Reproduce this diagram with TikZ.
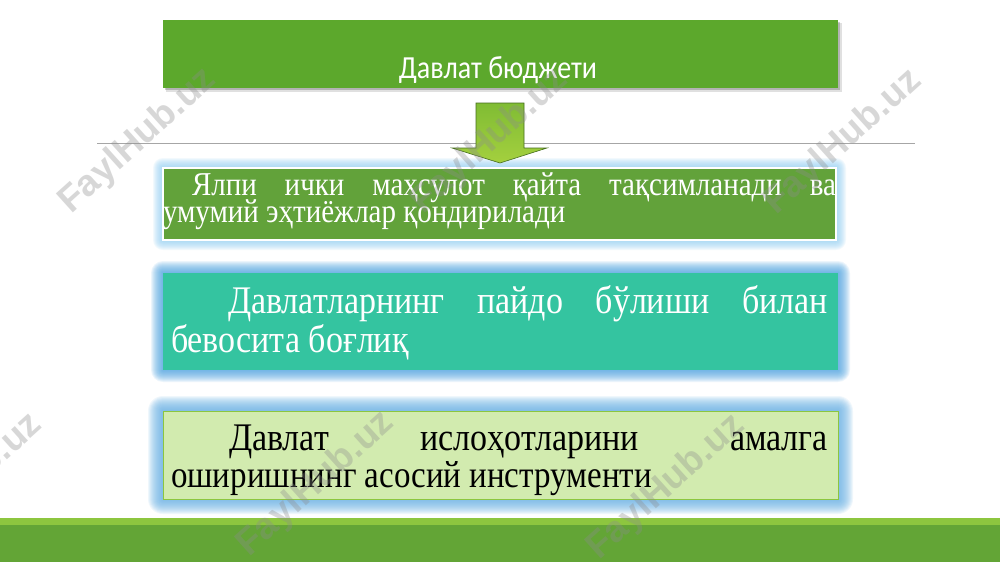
\documentclass[tikz,border=0pt]{standalone}
\usepackage{fontspec}
\setmainfont{Liberation Serif}
\newfontfamily\calibrifont{Carlito}
\newfontfamily\wmfont{Liberation Sans}
\definecolor{topgreen}{RGB}{92,168,44}
\definecolor{boxonegreen}{RGB}{98,162,58}
\definecolor{boxtwoteal}{RGB}{52,196,160}
\definecolor{boxthreefill}{RGB}{210,235,175}
\definecolor{boxthreeborder}{RGB}{140,198,63}
\definecolor{barmain}{RGB}{99,165,54}
\definecolor{barstripe}{RGB}{141,198,63}
\definecolor{glowlight}{RGB}{150,210,245}
\definecolor{glowmid}{RGB}{70,160,225}
\definecolor{arrowtop}{RGB}{128,188,52}
\definecolor{arrowbottom}{RGB}{164,208,62}
\definecolor{arrowborder}{RGB}{70,110,30}
\definecolor{wmgray}{RGB}{140,140,140}
\newcommand{\vstretch}[1]{\scalebox{1}[1.15]{#1}}
\tikzset{
  boxnode/.style={inner sep=0pt, outer sep=0pt},
  bodytext/.style={anchor=base west, inner sep=0pt, outer sep=0pt},
  wmark/.style={font=\wmfont\bfseries\fontsize{37}{40}\selectfont, text=wmgray, opacity=0.34, rotate=42, inner sep=0pt}
}
\begin{document}
\begin{tikzpicture}[x=1pt,y=-1pt]
\useasboundingbox (0,0) rectangle (1000,562);
\fill[white] (0,0) rectangle (1000,562);

% top title box with shadow
\fill[black,opacity=0.12] (166,23) rectangle (842,92);
\fill[black,opacity=0.2] (165,22) rectangle (840,90);
\node[boxnode, fill=topgreen, minimum width=675pt, minimum height=68pt] (top) at (500.5,54) {};
\node[anchor=base, inner sep=0pt, text=white, font=\calibrifont\fontsize{28}{30}\selectfont] (title) at (498,78) {\vstretch{Давлат бюджети}};

% separator line
\coordinate (lineL) at (97,143);
\coordinate (lineR) at (915,143);
\draw[black!35, line width=0.8pt] (lineL) -- (lineR);

% glows
\foreach \i in {1,...,10}
  \fill[glowlight, opacity=0.12, rounded corners=\i pt] ({163-\i},{168-\i}) rectangle ({836+\i},{240+\i});
\foreach \i in {1,...,12}
  \fill[glowmid, opacity=0.10, rounded corners=\i pt] ({163-\i},{273-\i}) rectangle ({838+\i},{370+\i});
\foreach \i in {1,...,15}
  \fill[glowmid!80!white, opacity=0.10, rounded corners=\i pt] ({163-\i},{411-\i}) rectangle ({838+\i},{499+\i});

% arrow
\shade[top color=arrowtop, bottom color=arrowbottom, draw=arrowborder, line width=0.6pt]
  (476,103) -- (524,103) -- (524,148) -- (547,148) -- (500,163) -- (452,148) -- (476,148) -- cycle;

% box 1
\node[boxnode, fill=boxonegreen, draw=white, line width=1.5pt, minimum width=673pt, minimum height=72pt] (b1) at (499.5,204) {};
\node[bodytext, text=white, font=\fontsize{29}{32}\selectfont] (t1a) at (192,195) {\vstretch{\makebox[644pt][s]{Ялпи ички маҳсулот қайта тақсимланади ва}}};
\node[bodytext, text=white, font=\fontsize{29}{32}\selectfont] (t1b) at (163,222) {\vstretch{умумий эҳтиёжлар қондирилади}};

% box 2
\node[boxnode, fill=boxtwoteal, minimum width=675pt, minimum height=97pt] (b2) at (500.5,321.5) {};
\node[bodytext, text=white, font=\fontsize{34}{39}\selectfont] (t2a) at (228,313) {\vstretch{\makebox[600pt][s]{Давлатларнинг пайдо бўлиши билан}}};
\node[bodytext, text=white, font=\fontsize{34}{39}\selectfont] (t2b) at (171,352) {\vstretch{бевосита боғлиқ}};

% box 3
\node[boxnode, fill=boxthreefill, draw=boxthreeborder, line width=1pt, minimum width=675pt, minimum height=88pt] (b3) at (500.5,455) {};
\node[bodytext, text=black, font=\fontsize{34}{39}\selectfont] (t3a) at (229,450) {\vstretch{\makebox[599pt][s]{Давлат ислоҳотларини амалга}}};
\node[bodytext, text=black, font=\fontsize{33}{39}\selectfont] (t3b) at (171,487) {\vstretch{оширишнинг асосий инструменти}};

% bottom bar
\fill[barmain] (0,518) rectangle (1000,562);
\fill[barstripe] (0,518) rectangle (1000,525);

% watermarks
\node[wmark] (w1) at (138,141) {FaylHub.uz};
\node[wmark] (w2) at (490,141) {FaylHub.uz};
\node[wmark] (w3) at (843,142) {FaylHub.uz};
\node[wmark] (w4) at (-36,486) {FaylHub.uz};
\node[wmark] (w5) at (316,484) {FaylHub.uz};
\node[wmark] (w6) at (666,487) {FaylHub.uz};
\end{tikzpicture}
\end{document}
